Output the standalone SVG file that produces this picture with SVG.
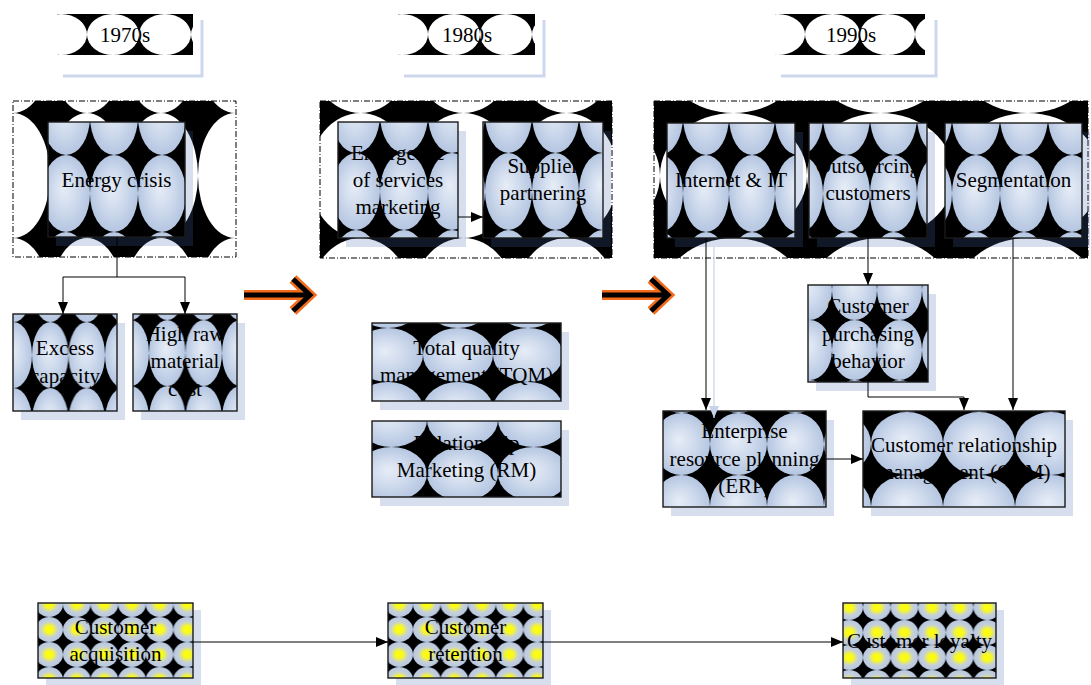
<svg xmlns="http://www.w3.org/2000/svg" width="1091" height="685" viewBox="0 0 1091 685">
<style>
.dash{stroke:#000;stroke-width:1;stroke-dasharray:6 2 1 2}
.box{stroke:#1a1a1a;stroke-width:1.4}
.sh{fill:#4a6eb6;fill-opacity:.22}
.ysh{fill:none;stroke:#cdd8ec;stroke-width:3}
.t{font-family:"Liberation Serif","Times New Roman",serif;font-size:21px;text-anchor:middle;fill:#000}
.con{fill:none;stroke:#000;stroke-width:1;marker-end:url(#arr)}
.conSh{fill:none;stroke:#c6d3ea;stroke-width:1.2;marker-end:url(#arrSh)}
.oa{fill:none;stroke:#f36c1c;stroke-width:10;stroke-linejoin:miter}
.ob{fill:none;stroke:#000;stroke-width:5;stroke-linejoin:miter}
</style>
<defs>
<radialGradient id="gBall" cx="0.5" cy="0.5" r="0.5" fx="0.45" fy="0.42">
<stop offset="0" stop-color="#e7edf7"/>
<stop offset="0.55" stop-color="#cdd9ec"/>
<stop offset="1" stop-color="#b5c6e1"/>
</radialGradient>
<radialGradient id="gYel" cx="0.5" cy="0.5" r="0.5">
<stop offset="0" stop-color="#ffff00"/>
<stop offset="0.3" stop-color="#f6f72a"/>
<stop offset="0.62" stop-color="#c6d0d6"/>
<stop offset="1" stop-color="#b7c7e2"/>
</radialGradient>
<g id="tB"><rect width="2" height="2" fill="#000"/><ellipse cx="1" cy="1" rx="1" ry="1" fill="url(#gBall)"/></g>
<g id="tW"><rect width="2" height="2" fill="#000"/><ellipse cx="1" cy="1" rx="1" ry="1" fill="#fff"/></g>
<g id="tY"><rect width="2" height="2" fill="#000"/><ellipse cx="1" cy="1" rx="1" ry="1" fill="url(#gYel)"/></g>
<pattern id="pC70" patternUnits="userSpaceOnUse" x="37" y="12" width="74" height="125" viewBox="0 0 2 2" preserveAspectRatio="none"><use href="#tW"/></pattern>
<pattern id="pC80" patternUnits="userSpaceOnUse" x="92" y="12" width="103" height="125" viewBox="0 0 2 2" preserveAspectRatio="none"><use href="#tW"/></pattern>
<pattern id="pC90" patternUnits="userSpaceOnUse" x="6" y="12" width="147" height="125" viewBox="0 0 2 2" preserveAspectRatio="none"><use href="#tW"/></pattern>
<pattern id="pY70" patternUnits="userSpaceOnUse" x="30" y="0" width="52" height="41" viewBox="0 0 2 2" preserveAspectRatio="none"><use href="#tW"/></pattern>
<pattern id="pY90" patternUnits="userSpaceOnUse" x="30" y="0" width="55" height="41" viewBox="0 0 2 2" preserveAspectRatio="none"><use href="#tW"/></pattern>
<pattern id="pEnergy" patternUnits="userSpaceOnUse" x="42" y="33" width="48" height="77" viewBox="0 0 2 2" preserveAspectRatio="none"><use href="#tB"/></pattern>
<pattern id="pExcess" patternUnits="userSpaceOnUse" x="19" y="8" width="36.5" height="66" viewBox="0 0 2 2" preserveAspectRatio="none"><use href="#tB"/></pattern>
<pattern id="pHigh" patternUnits="userSpaceOnUse" x="16" y="6" width="36.5" height="66" viewBox="0 0 2 2" preserveAspectRatio="none"><use href="#tB"/></pattern>
<pattern id="pEmer" patternUnits="userSpaceOnUse" x="42" y="31" width="48" height="77" viewBox="0 0 2 2" preserveAspectRatio="none"><use href="#tB"/></pattern>
<pattern id="pSupp" patternUnits="userSpaceOnUse" x="2" y="31" width="47" height="77" viewBox="0 0 2 2" preserveAspectRatio="none"><use href="#tB"/></pattern>
<pattern id="pTqm" patternUnits="userSpaceOnUse" x="51" y="5" width="70" height="54" viewBox="0 0 2 2" preserveAspectRatio="none"><use href="#tB"/></pattern>
<pattern id="pRm" patternUnits="userSpaceOnUse" x="55" y="26" width="71" height="54" viewBox="0 0 2 2" preserveAspectRatio="none"><use href="#tB"/></pattern>
<pattern id="pNet" patternUnits="userSpaceOnUse" x="16" y="32" width="46" height="77" viewBox="0 0 2 2" preserveAspectRatio="none"><use href="#tB"/></pattern>
<pattern id="pOut" patternUnits="userSpaceOnUse" x="14" y="32" width="47" height="77" viewBox="0 0 2 2" preserveAspectRatio="none"><use href="#tB"/></pattern>
<pattern id="pSeg" patternUnits="userSpaceOnUse" x="7" y="32" width="48" height="77" viewBox="0 0 2 2" preserveAspectRatio="none"><use href="#tB"/></pattern>
<pattern id="pCpb" patternUnits="userSpaceOnUse" x="24" y="35" width="45" height="60" viewBox="0 0 2 2" preserveAspectRatio="none"><use href="#tB"/></pattern>
<pattern id="pErp" patternUnits="userSpaceOnUse" x="47" y="64" width="57" height="62" viewBox="0 0 2 2" preserveAspectRatio="none"><use href="#tB"/></pattern>
<pattern id="pCrm" patternUnits="userSpaceOnUse" x="8" y="64" width="72" height="63" viewBox="0 0 2 2" preserveAspectRatio="none"><use href="#tB"/></pattern>
<pattern id="pAcq" patternUnits="userSpaceOnUse" x="25" y="14" width="27.6" height="25" viewBox="0 0 2 2" preserveAspectRatio="none"><use href="#tY"/></pattern>
<pattern id="pLoy" patternUnits="userSpaceOnUse" x="20" y="17" width="27.6" height="25" viewBox="0 0 2 2" preserveAspectRatio="none"><use href="#tY"/></pattern>
<marker id="arr" markerUnits="userSpaceOnUse" markerWidth="12" markerHeight="10" refX="12" refY="5" orient="auto"><path d="M0,0 L12,5 L0,10 z" fill="#000"/></marker>
<marker id="arrSh" markerUnits="userSpaceOnUse" markerWidth="12" markerHeight="10" refX="12" refY="5" orient="auto"><path d="M0,0 L12,5 L0,10 z" fill="#c6d3ea"/></marker>
</defs>

<!-- era containers -->
<g id="era1970" transform="translate(13,101)"><rect class="dash" width="223" height="156" fill="url(#pC70)"/></g>
<g id="era1980" transform="translate(320,101)"><rect class="dash" width="292" height="157" fill="url(#pC80)"/></g>
<g id="era1990" transform="translate(654,101)"><rect class="dash" width="434" height="157" fill="url(#pC90)"/></g>

<!-- year labels -->
<g id="y1970" transform="translate(57,14)"><path class="ysh" d="M145,6 V62 H6"/><rect width="136" height="41" fill="url(#pY70)"/><text class="t" x="68" y="28">1970s</text></g>
<g id="y1980" transform="translate(398,14)"><path class="ysh" d="M146,6 V62 H6"/><rect width="137" height="41" fill="url(#pY70)"/><text class="t" x="69" y="28">1980s</text></g>
<g id="y1990" transform="translate(775,14)"><path class="ysh" d="M161,6 V62 H6"/><rect width="150" height="41" fill="url(#pY90)"/><text class="t" x="76" y="28">1990s</text></g>

<!-- 1970s nodes -->
<g id="energy" transform="translate(48,122)"><rect class="sh" x="8" y="9" width="137" height="115"/><rect class="box" width="137" height="115" fill="url(#pEnergy)"/><text class="t" x="68.5" y="65">Energy crisis</text></g>
<g id="excess" transform="translate(13,314)"><rect class="sh" x="8" y="9" width="104" height="97"/><rect class="box" width="104" height="97" fill="url(#pExcess)"/><text class="t"><tspan x="52" y="41">Excess</tspan><tspan x="52" y="69">capacity</tspan></text></g>
<g id="highraw" transform="translate(133,314)"><rect class="sh" x="8" y="9" width="104" height="97"/><rect class="box" width="104" height="97" fill="url(#pHigh)"/><text class="t"><tspan x="52" y="27">High raw</tspan><tspan x="52" y="54">material</tspan><tspan x="52" y="82">cost</tspan></text></g>

<!-- 1980s nodes -->
<g id="emergence" transform="translate(338,122)"><rect class="sh" x="8" y="9" width="120" height="116"/><rect class="box" width="120" height="116" fill="url(#pEmer)"/><text class="t"><tspan x="60" y="38">Emergence</tspan><tspan x="60" y="65">of services</tspan><tspan x="60" y="92">marketing</tspan></text></g>
<g id="supplier" transform="translate(483,122)"><rect class="sh" x="8" y="9" width="120" height="116"/><rect class="box" width="120" height="116" fill="url(#pSupp)"/><text class="t"><tspan x="60" y="51">Supplier</tspan><tspan x="60" y="78">partnering</tspan></text></g>
<g id="tqm" transform="translate(372,323)"><rect class="sh" x="8" y="9" width="189" height="78"/><rect class="box" width="189" height="78" fill="url(#pTqm)"/><text class="t"><tspan x="94.5" y="32">Total quality</tspan><tspan x="94.5" y="59">management (TQM)</tspan></text></g>
<g id="rm" transform="translate(372,421)"><rect class="sh" x="8" y="9" width="189" height="76"/><rect class="box" width="189" height="76" fill="url(#pRm)"/><text class="t"><tspan x="94.5" y="29">Relationship</tspan><tspan x="94.5" y="56">Marketing (RM)</tspan></text></g>

<!-- 1990s nodes -->
<g id="internet" transform="translate(667,123)"><rect class="sh" x="8" y="9" width="128" height="115"/><rect class="box" width="128" height="115" fill="url(#pNet)"/><text class="t" x="64" y="64">Internet &amp; IT</text></g>
<g id="outsourcing" transform="translate(809,123)"><rect class="sh" x="8" y="9" width="118" height="115"/><rect class="box" width="118" height="115" fill="url(#pOut)"/><text class="t"><tspan x="59" y="50">Outsourcing</tspan><tspan x="59" y="77">customers</tspan></text></g>
<g id="segmentation" transform="translate(945,123)"><rect class="sh" x="8" y="9" width="137" height="115"/><rect class="box" width="137" height="115" fill="url(#pSeg)"/><text class="t" x="68.5" y="64">Segmentation</text></g>
<g id="purchasing" transform="translate(808,285)"><rect class="sh" x="8" y="9" width="120" height="97"/><rect class="box" width="120" height="97" fill="url(#pCpb)"/><text class="t"><tspan x="60" y="28">Customer</tspan><tspan x="60" y="56">purchasing</tspan><tspan x="60" y="83">behavior</tspan></text></g>
<g id="erp" transform="translate(663,411)"><rect class="sh" x="8" y="9" width="163" height="96"/><rect class="box" width="163" height="96" fill="url(#pErp)"/><text class="t"><tspan x="81.5" y="27">Enterprise</tspan><tspan x="81.5" y="55">resource planning</tspan><tspan x="81.5" y="82">(ERP)</tspan></text></g>
<g id="crm" transform="translate(863,411)"><rect class="sh" x="8" y="9" width="202" height="96"/><rect class="box" width="202" height="96" fill="url(#pCrm)"/><text class="t"><tspan x="101" y="41">Customer relationship</tspan><tspan x="101" y="68">management (CRM)</tspan></text></g>

<!-- bottom stages -->
<g id="acquisition" transform="translate(38,603)"><rect class="sh" x="8" y="7" width="155" height="75"/><rect class="box" width="155" height="75" fill="url(#pAcq)"/><text class="t"><tspan x="77.5" y="31">Customer</tspan><tspan x="77.5" y="58">acquisition</tspan></text></g>
<g id="retention" transform="translate(388,603)"><rect class="sh" x="8" y="7" width="155" height="75"/><rect class="box" width="155" height="75" fill="url(#pAcq)"/><text class="t"><tspan x="77.5" y="31">Customer</tspan><tspan x="77.5" y="58">retention</tspan></text></g>
<g id="loyalty" transform="translate(843,603)"><rect class="sh" x="8" y="7" width="153" height="75"/><rect class="box" width="153" height="75" fill="url(#pLoy)"/><text class="t" x="76.5" y="45">Customer loyalty</text></g>

<!-- connectors -->
<g id="connectors">
<path class="conSh" d="M714,246 V418"/>
<path class="con" d="M117,237 V277 H63 V314"/>
<path class="con" d="M117,277 H185 V314"/>
<path class="con" d="M458,217 H483"/>
<path class="con" d="M706,238 V410"/>
<path class="con" d="M868,238 V285"/>
<path class="con" d="M1013,238 V410"/>
<path class="con" d="M868,382 V397 H964 V410"/>
<path class="con" d="M826,459 H863"/>
<path class="con" d="M193,642 H388"/>
<path class="con" d="M543,642 H843"/>
<g id="eraArrow1"><path class="oa" d="M244,295 H309 M293,279 L310,295 L293,311"/><path class="ob" d="M244,295 H309 M293,279 L310,295 L293,311"/></g>
<g id="eraArrow2"><path class="oa" d="M602,295 H667 M651,279 L668,295 L651,311"/><path class="ob" d="M602,295 H667 M651,279 L668,295 L651,311"/></g>
</g>
</svg>
